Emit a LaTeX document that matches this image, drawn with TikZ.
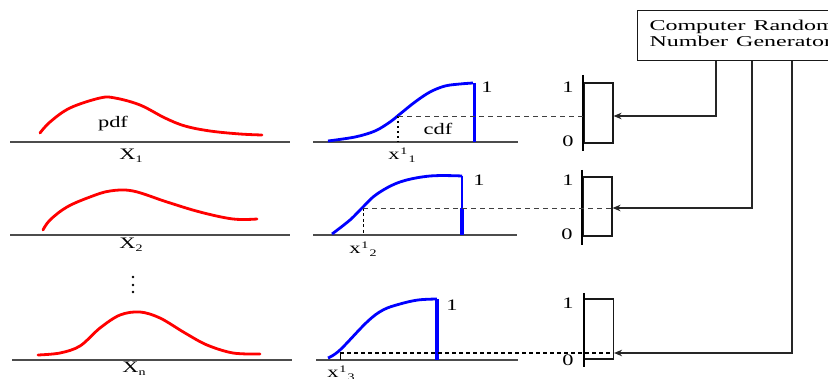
\documentclass[tikz,border=0pt]{standalone}
\usepackage{fontspec}
\setmainfont{Liberation Serif}
\usepackage{graphicx}
\usetikzlibrary{arrows.meta}
\newcommand{\widetxt}[1]{\scalebox{1.4}[1]{#1}}
\newcommand{\sublbl}[1]{\raisebox{-3pt}{\fontsize{10}{10}\selectfont #1}}
\newcommand{\xlab}[1]{\widetxt{x\kern0.5pt\raisebox{5pt}{\fontsize{10}{10}\selectfont 1}\kern1pt\raisebox{-3pt}{\fontsize{10}{10}\selectfont #1}}}
\begin{document}
\begin{tikzpicture}[x=1pt,y=-1pt,
  axisline/.style={draw=black!70, line width=1.1pt},
  pdfcurve/.style={draw=red, line width=2.8pt, line cap=round},
  cdfcurve/.style={draw=blue, line width=2.8pt},
  cdfbar/.style={draw=blue, line width=3pt},
  lbl/.style={font=\fontsize{16}{17}\selectfont, inner sep=0pt, text=black},
  barline/.style={draw=black, line width=2.4pt},
  boxst/.style={draw=black!90, line width=1.1pt, inner sep=0pt, minimum width=29pt},
  conn/.style={draw=black!85, line width=1.1pt, -{Stealth[length=8pt,width=6.5pt,inset=2.5pt]}},
  guide/.style={draw=black!75, line width=0.9pt, dash pattern=on 5pt off 4pt},
  guidebold/.style={draw=black, line width=1.5pt, dash pattern=on 4pt off 3pt},
  dotv/.style={draw=black, line width=2pt, dash pattern=on 2.5pt off 2.5pt}
]
\useasboundingbox (0,0) rectangle (828,379);
\clip (0,0) rectangle (828,379);

% generator
\node[draw=black!90, line width=1.1pt, anchor=north west, minimum height=50pt,
      text width=200pt, inner xsep=12pt, inner ysep=0pt, align=left,
      font=\fontsize{15}{16}\selectfont, text=black] (gen) at (637,10)
  {\raisebox{4pt}{\scalebox{1.6}[1]{\begin{tabular}{@{}l@{}}Computer Random\\Number Generator\end{tabular}}}};
\coordinate (g1) at (716,0);
\coordinate (g2) at (752,0);
\coordinate (g3) at (792,0);

% ===== Row 1 =====
\draw[axisline] (10,142) -- (290,142);
\draw[pdfcurve] plot[smooth, tension=0.6] coordinates {(40,133) (50,122) (70,108) (100,98) (115,98) (140,105) (165,118) (185,126) (210,131) (240,134) (262,135)};
\node[lbl] (pdf1) at (113,124) {\widetxt{pdf}};
\node[lbl] (X1) at (131,156) {\widetxt{X\sublbl{1}}};

\draw[axisline] (313,142) -- (518,142);
\draw[cdfcurve] plot[smooth, tension=0.55] coordinates {(328,141) (355,137) (375,131) (390,122) (400,114) (415,102) (430,92) (445,86) (460,84) (473,83)};
\draw[cdfbar] (474,83) -- (474,142);
\coordinate (h1) at (398,116);
\draw[dotv] (h1) -- (398,142);
\node[lbl] (cdf1) at (438,129) {\widetxt{cdf}};
\node[lbl] (one1) at (487,87) {\widetxt{1}};
\node[lbl] (xl1) at (402,155) {\xlab{1}};

\node[boxst, minimum height=60pt] (b1) at (598.5,113) {};
\draw[barline] (583,75) -- (583,151);
\node[lbl] (t1) at (568,87) {\widetxt{1}};
\node[lbl] (z1) at (568,141) {\widetxt{0}};
\draw[guide] (h1) -- (583,116);
\draw[conn] (g1 |- gen.south) |- (b1.east |- h1);

% ===== Row 2 =====
\draw[axisline] (10,235) -- (290,235);
\draw[pdfcurve] plot[smooth, tension=0.6] coordinates {(43,230) (50,220) (67,207) (90,197) (110,191) (133,191) (167,202) (200,212) (233,219) (257,219)};
\node[lbl] (X2) at (131,245) {\widetxt{X\sublbl{2}}};

\draw[axisline] (313,235) -- (517,235);
\draw[cdfcurve] plot[smooth, tension=0.6] coordinates {(332,234) (350,220) (363,207) (377,194) (400,182) (430,176) (462,176)};
\draw[draw=blue, line width=2.6pt] (462,176) -- (462,208);
\draw[cdfbar, line width=3.8pt] (462,208) -- (462,235);
\coordinate (h2) at (363,208);
\draw[draw=black, line width=0.9pt, dash pattern=on 3pt off 2.5pt] (h2) -- (363,235);
\node[lbl] (one2) at (479,180) {\widetxt{1}};
\node[lbl] (xl2) at (363,249) {\xlab{2}};

\node[boxst, minimum height=59pt] (b2) at (597.5,206.5) {};
\draw[barline] (582,170) -- (582,245);
\node[lbl] (t2) at (568,180) {\widetxt{1}};
\node[lbl] (z2) at (567,234) {\widetxt{0}};
\draw[guide] (h2) -- (612,208);
\draw[conn] (g2 |- gen.south) |- (b2.east |- h2);

% dots
\fill[black] (133,277) circle (1.4pt) (133,285) circle (1.4pt) (133,292) circle (1.4pt);

% ===== Row 3 =====
\draw[axisline] (12,360) -- (292,360);
\draw[pdfcurve] plot[smooth, tension=0.55] coordinates {(38,355) (60,353) (80,346) (100,328) (120,315) (140,312) (160,318) (185,333) (207,345) (233,353) (260,354)};
\node[lbl] (Xn) at (134,369) {\widetxt{X\sublbl{n}}};

\draw[axisline] (316,360) -- (518,360);
\draw[cdfcurve] plot[smooth, tension=0.6] coordinates {(328,358) (340,350) (367,322) (383,310) (400,304) (418,300) (437,299)};
\draw[cdfbar, line width=3.8pt] (437,299) -- (437,360);
\coordinate (h3) at (340,353);
\draw[draw=black, line width=1pt] (h3) -- (340,360);
\node[lbl] (one3) at (452,305) {\widetxt{1}};
\node[lbl] (xl3) at (341,373) {\xlab{3}};

\node[boxst, minimum height=60pt] (b3) at (599,329) {};
\draw[barline] (584,293) -- (584,367);
\node[lbl] (t3) at (568,303) {\widetxt{1}};
\node[lbl] (z3) at (568,360) {\widetxt{0}};
\draw[guidebold] (h3) -- (613,353);
\draw[conn] (g3 |- gen.south) |- (b3.east |- h3);
\end{tikzpicture}
\end{document}
